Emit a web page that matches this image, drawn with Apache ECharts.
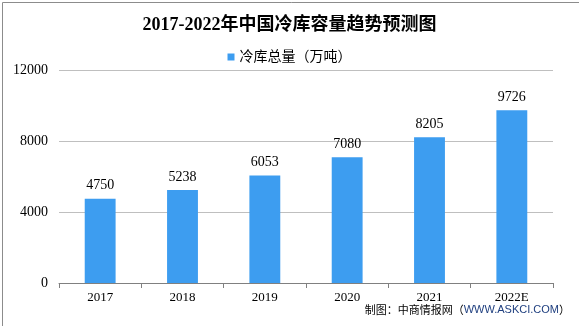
<!DOCTYPE html>
<html><head><meta charset="utf-8">
<script src="https://cdn.jsdelivr.net/npm/echarts@6/dist/echarts.min.js"></script>
<style>html,body{margin:0;padding:0;background:#fff}#c{width:579px;height:326px}</style>
</head><body><div id="c"></div>
<script>
const categories = ['2017','2018','2019','2020','2021','2022E'];
const values = [4750, 5238, 6053, 7080, 8205, 9726];
const yTicks = [0, 4000, 8000, 12000];
const seriesName = '冷库总量（万吨）';
const titleText = '2017-2022年中国冷库容量趋势预测图';
const serif = '"Liberation Serif","DejaVu Serif","Noto Sans CJK SC",serif';
const chart = echarts.init(document.getElementById('c'));
chart.setOption({
  animation: false,
  title: {text: titleText, left: 'center', top: 11, textStyle: {fontFamily: serif, fontSize: 18, fontWeight: 'bold', color: '#000'}},
  legend: {data: [seriesName], top: 45, left: 'center', icon: 'rect', itemWidth: 7, itemHeight: 7, itemGap: 4,
    textStyle: {fontFamily: serif, fontSize: 14, color: '#000'}},
  grid: {left: 59, right: 26, top: 70, bottom: 43, containLabel: false},
  xAxis: {type: 'category', data: categories,
    axisLine: {lineStyle: {color: '#808080'}},
    axisTick: {show: true, lineStyle: {color: '#808080'}, length: 5},
    axisLabel: {fontFamily: serif, fontSize: 13, color: '#000', margin: 8}},
  yAxis: {type: 'value', min: yTicks[0], max: yTicks[yTicks.length-1], interval: 4000,
    axisLine: {show: false}, axisTick: {show: false},
    splitLine: {lineStyle: {color: '#bfbfbf'}},
    axisLabel: {fontFamily: serif, fontSize: 14, color: '#000', margin: 11, formatter: v => String(v)}},
  series: [{name: seriesName, type: 'bar', data: values, barWidth: '37.5%',
    itemStyle: {color: '#3d9df0'},
    label: {show: true, position: 'top', fontFamily: serif, fontSize: 14, color: '#000', distance: 6}}],
  graphic: [
    {type: 'rect', left: 0, top: 0, shape: {width: 578, height: 325}, style: {fill: 'none', stroke: '#8c8c8c', lineWidth: 1}},
    {type: 'text', right: 9, top: 304, style: {
      text: '{a|制图：中商情报网（}{b|WWW.ASKCI.COM}{a|）}',
      rich: {a: {fontFamily: '"Noto Sans CJK SC",sans-serif', fontSize: 11, fill: '#000'},
             b: {fontFamily: '"Liberation Sans",sans-serif', fontSize: 11, fill: '#1f3f7f'}}}}
  ]
});
</script></body></html>
